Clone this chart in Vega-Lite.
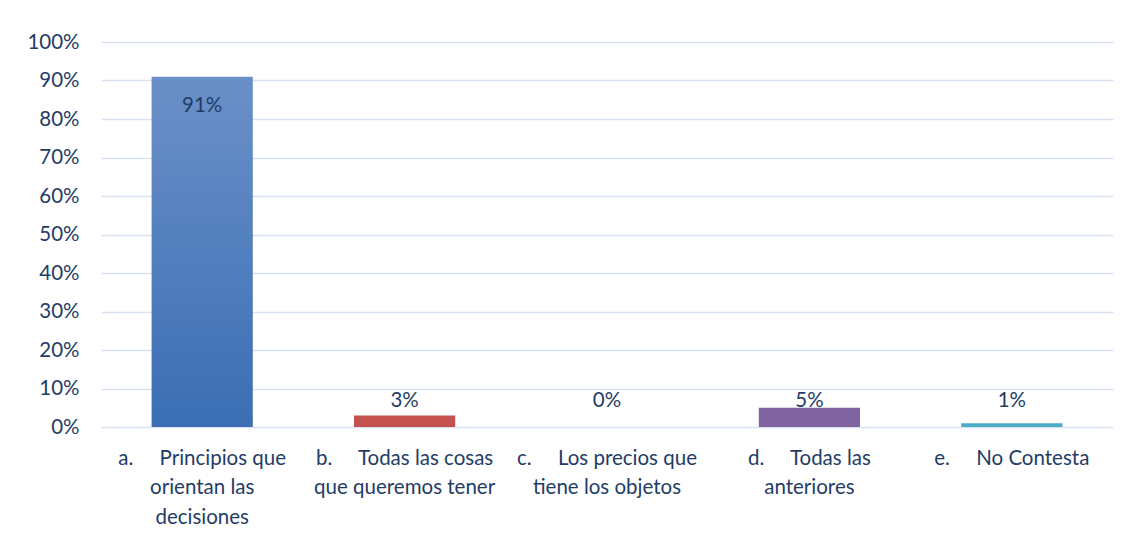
{
  "$schema": "https://vega.github.io/schema/vega-lite/v6.json",
  "autosize": {"type": "none"},
  "width": 1012,
  "height": 385,
  "padding": {"left": 101, "top": 42, "right": 16, "bottom": 111},
  "background": "white",
  "config": {
    "view": {"stroke": null},
    "font": "Lato",
    "axis": {"labelFont": "Lato", "labelFontSize": 20.5, "labelColor": "#1f3d66"}
  },
  "data": {
    "values": [
      {"c": "a", "cat": "a.\u00a0\u00a0\u00a0\u00a0\u00a0Principios que|orientan las|decisiones", "v": 0.91, "lab": "91%"},
      {"c": "b", "cat": "b.\u00a0\u00a0\u00a0\u00a0\u00a0Todas las cosas|que queremos tener", "v": 0.03, "lab": "3%"},
      {"c": "c", "cat": "c.\u00a0\u00a0\u00a0\u00a0\u00a0Los precios que|tiene los objetos", "v": 0.0, "lab": "0%"},
      {"c": "d", "cat": "d.\u00a0\u00a0\u00a0\u00a0\u00a0Todas las|anteriores", "v": 0.05, "lab": "5%"},
      {"c": "e", "cat": "e.\u00a0\u00a0\u00a0\u00a0\u00a0No Contesta", "v": 0.01, "lab": "1%"}
    ]
  },
  "encoding": {
    "x": {
      "field": "cat", "type": "nominal", "sort": null,
      "scale": {"paddingInner": 0.5, "paddingOuter": 0.25},
      "axis": {
        "title": null, "labelAngle": 0, "domain": false, "ticks": false,
        "labelExpr": "split(datum.value, '|')", "labelLineHeight": 29.5,
        "labelBaseline": "top", "labelPadding": 21, "labelLimit": 300
      }
    },
    "y": {
      "field": "v", "type": "quantitative",
      "scale": {"domain": [0, 1]},
      "axis": {
        "title": null, "format": "%", "values": [0, 0.1, 0.2, 0.3, 0.4, 0.5, 0.6, 0.7, 0.8, 0.9, 1],
        "labelOverlap": false,
        "domain": false, "ticks": false, "labelPadding": 22,
        "grid": true, "gridColor": "#d9e2f3", "gridWidth": 1.5
      }
    }
  },
  "layer": [
    {
      "transform": [{"filter": "datum.c == 'a'"}],
      "mark": {
        "type": "bar",
        "fill": {"gradient": "linear", "x1": 0, "y1": 0, "x2": 0, "y2": 1,
          "stops": [{"offset": 0, "color": "#6b90c8"}, {"offset": 1, "color": "#3b6eb4"}]}
      }
    },
    {
      "transform": [{"filter": "datum.c != 'a'"}],
      "mark": {"type": "bar"},
      "encoding": {
        "color": {
          "field": "c", "type": "nominal", "legend": null,
          "scale": {"domain": ["b", "c", "d", "e"], "range": ["#c4524f", "#9bbb59", "#8064a2", "#4bacc6"]}
        }
      }
    },
    {
      "transform": [{"filter": "datum.c == 'a'"}],
      "mark": {"type": "text", "baseline": "middle", "dy": 29, "fontSize": 20.5, "color": "#1f3d66", "font": "Lato"},
      "encoding": {
        "text": {"field": "lab"}
      }
    },
    {
      "transform": [{"filter": "datum.c != 'a'"}],
      "mark": {"type": "text", "baseline": "middle", "fontSize": 20.5, "color": "#1f3d66", "font": "Lato"},
      "encoding": {
        "y": {
          "datum": 0.0675, "type": "quantitative",
          "axis": {
            "title": null, "format": "%", "values": [0, 0.1, 0.2, 0.3, 0.4, 0.5, 0.6, 0.7, 0.8, 0.9, 1],
            "labelOverlap": false,
            "domain": false, "ticks": false, "labelPadding": 22,
            "grid": true, "gridColor": "#d9e2f3", "gridWidth": 1.5
          }
        },
        "text": {"field": "lab"}
      }
    }
  ]
}
